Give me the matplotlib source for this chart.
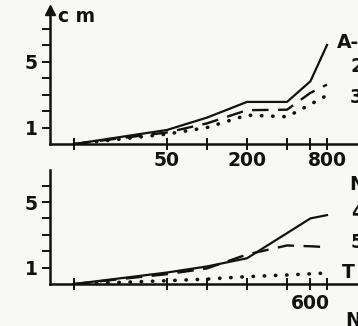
import numpy as np
import matplotlib
matplotlib.use("Agg")
import matplotlib.pyplot as plt

# data
N = [10, 50, 100, 200, 400, 600, 800]
a1 = [0, 0.85, 1.6, 2.55, 2.55, 3.8, 6.0]
a2 = [0, 0.7, 1.25, 2.05, 2.08, 3.1, 3.6]
a3 = [0, 0.6, 1.0, 1.75, 1.65, 2.4, 2.95]

N2 = [10, 50, 100, 200, 400, 600, 800]
b4 = [0, 0.7, 1.07, 1.57, 3.1, 4.0, 4.2]
b5 = [0, 0.6, 0.95, 1.8, 2.35, 2.3, 2.25]
bT = [0, 0.2, 0.3, 0.45, 0.55, 0.62, 0.67]

xticks = [10, 50, 100, 200, 400, 600, 800]
top_xlabels = ["", "50", "", "200", "", "", "800"]
bot_xlabels = ["", "", "", "", "", "600", ""]

W, H = 358, 326
bg = "#f8f8f6"
ink = "#111111"
plt.rcParams["font.family"] = ["DejaVu Sans"]
plt.rcParams["font.weight"] = "bold"

fig = plt.figure(figsize=(W / 100, H / 100), dpi=100, facecolor=bg)


def n_at(px):
    # horizontal pixel -> N (log2 scale, 40 px per doubling, N=50 at 167 px)
    return 50 * 2 ** ((px - 167) / 40)


def setup(ax, ymax, yticks):
    ax.set_facecolor(bg)
    ax.set_xscale("log")
    ax.set_xlim(n_at(50), n_at(358))
    ax.set_ylim(0, ymax)
    for s in ["top", "right"]:
        ax.spines[s].set_visible(False)
    for s in ["left", "bottom"]:
        ax.spines[s].set_linewidth(1.8)
        ax.spines[s].set_color(ink)
    ax.set_yticks(yticks)
    ax.set_yticklabels(["1" if t == 1 else "5" if t == 5 else "" for t in yticks])
    ax.yaxis.set_minor_locator(plt.NullLocator())
    ax.xaxis.set_minor_locator(plt.NullLocator())
    ax.tick_params(axis="y", direction="out", length=6, width=1.4, pad=3,
                   labelsize=13.5, colors=ink)
    ax.tick_params(axis="x", direction="inout", length=8, width=1.4, pad=1,
                   labelsize=13.5, colors=ink)


# top panel
ax1 = fig.add_axes([50 / W, (H - 144) / H, 308 / W, 134 / H])
setup(ax1, 134 / 16.5, [1, 2, 3, 4, 5, 6, 7])
ax1.set_xticks(xticks)
ax1.set_xticklabels(top_xlabels)
ax1.plot(N, a1, color=ink, lw=1.6)
ax1.plot(N, a2, color=ink, lw=1.7, dashes=(7, 4))
ax1.plot(N, a3, color=ink, lw=2.6, linestyle=(0, (0.1, 3.0)),
         dash_capstyle="round")
ax1.plot([n_at(50)], [134 / 16.5], marker="^", ms=7, color=ink, clip_on=False)

# bottom panel
ax2 = fig.add_axes([50 / W, (H - 284) / H, 308 / W, 114 / H])
setup(ax2, 114 / 16.4, [1, 2, 3, 4, 5, 6])
ax2.set_xticks(xticks)
ax2.set_xticklabels(bot_xlabels)
ax2.tick_params(axis="x", pad=3)
ax2.plot(N2, b4, color=ink, lw=1.6)
ax2.plot(N2, b5, color=ink, lw=1.7, dashes=(7, 4))
ax2.plot(N2, bT, color=ink, lw=2.6, linestyle=(0, (0.1, 3.0)),
         dash_capstyle="round")

# labels at the cut right edge (cut off in the original scan too)
def label(px, py, s, ha="left"):
    fig.text(px / W, 1 - py / H, s, ha=ha, va="center", fontsize=13.5,
             fontweight="bold", color=ink)

label(58, 17, "c m")
label(337, 43, "A-1")
label(350, 67, "2")
label(350, 97, "3")
label(349, 184, "N")
label(351, 212, "4")
label(351, 242, "5")
label(342, 272, "T")
label(345, 320, "N")

fig.savefig("out.png", dpi=100, facecolor=bg)
